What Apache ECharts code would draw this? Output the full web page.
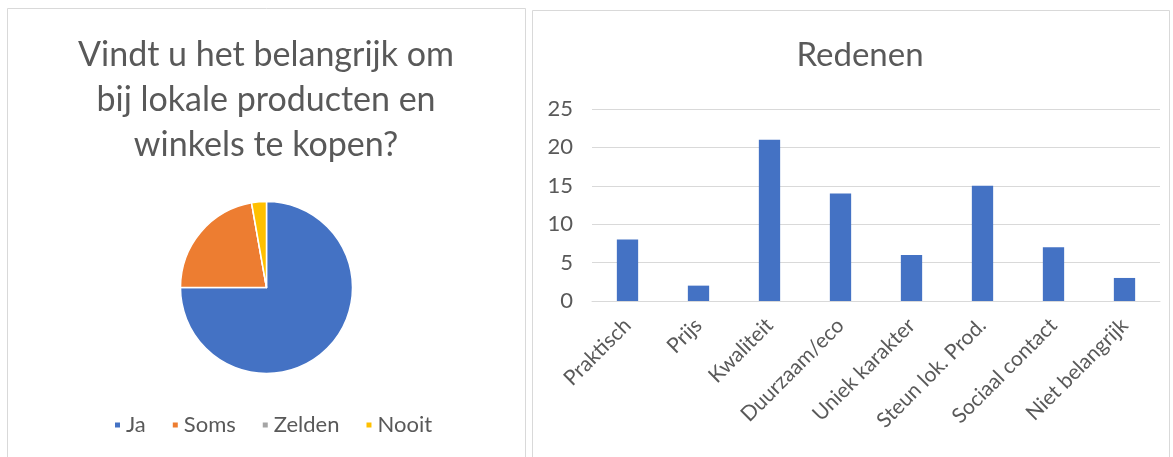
<!DOCTYPE html>
<html>
<head>
<meta charset="utf-8">
<script src="https://cdn.jsdelivr.net/npm/echarts@6/dist/echarts.min.js"></script>
<style>
  html, body { margin: 0; padding: 0; background: #ffffff; }
  #chart { width: 1173px; height: 457px; }
</style>
</head>
<body>
<div id="chart"></div>
<script>
// ---- data ----
const pieTitle = 'Vindt u het belangrijk om\nbij lokale producten en\nwinkels te kopen?';
const pieCategories = ['Ja', 'Soms', 'Zelden', 'Nooit'];
const pieValues = [27, 8, 0, 1];

const barTitle = 'Redenen';
const barCategories = ['Praktisch', 'Prijs', 'Kwaliteit', 'Duurzaam/eco', 'Uniek karakter', 'Steun lok. Prod.', 'Sociaal contact', 'Niet belangrijk'];
const barValues = [8, 2, 21, 14, 6, 15, 7, 3];

// ---- styles ----
const pieColors = ['#4472C4', '#ED7D31', '#A5A5A5', '#FFC000'];
const textColor = '#595959';
const fontFamily = 'Lato, "Open Sans", sans-serif';

const chart = echarts.init(document.getElementById('chart'), null, { renderer: 'canvas' });

chart.setOption({
  animation: false,
  backgroundColor: '#ffffff',
  textStyle: { fontFamily: fontFamily },
  graphic: [
    { type: 'rect', z: -10, shape: { x: 7.5, y: 8.5, width: 518, height: 470 },
      style: { fill: 'transparent', stroke: '#d9d9d9', lineWidth: 1 } },
    { type: 'rect', z: -10, shape: { x: 532.5, y: 10.5, width: 637, height: 470 },
      style: { fill: 'transparent', stroke: '#d9d9d9', lineWidth: 1 } }
  ],
  title: [
    {
      text: pieTitle, left: 266, top: 33, textAlign: 'center', padding: 0,
      textStyle: { fontFamily: fontFamily, fontSize: 34, fontWeight: 'normal', color: textColor, lineHeight: 45 }
    },
    {
      text: barTitle, left: 860, top: 33, textAlign: 'center', padding: 0,
      textStyle: { fontFamily: fontFamily, fontSize: 33, fontWeight: 'normal', color: textColor, lineHeight: 45 }
    }
  ],
  legend: {
    data: pieCategories,
    left: 113, top: 414,
    icon: 'rect', itemWidth: 7, itemHeight: 7, itemGap: 25,
    padding: 0,
    textStyle: { fontFamily: fontFamily, fontSize: 22, color: textColor }
  },
  grid: { left: 592, right: 13, top: 109, bottom: 156, containLabel: false },
  xAxis: {
    type: 'category', data: barCategories,
    axisLine: { lineStyle: { color: '#d9d9d9', width: 1 } },
    axisTick: { show: false },
    axisLabel: { rotate: 45, margin: 21, interval: 0, fontFamily: fontFamily, fontSize: 21, color: textColor }
  },
  yAxis: {
    type: 'value', min: 0, max: 25, interval: 5,
    axisLine: { show: false }, axisTick: { show: false },
    axisLabel: { margin: 19, fontFamily: fontFamily, fontSize: 22, color: textColor },
    splitLine: { lineStyle: { color: '#d9d9d9', width: 1 } }
  },
  series: [
    {
      type: 'pie', name: 'pie',
      center: [266.5, 287.5], radius: 86,
      startAngle: 90, clockwise: true,
      label: { show: false }, labelLine: { show: false },
      itemStyle: { borderColor: '#ffffff', borderWidth: 1.5 },
      data: pieCategories.map((c, i) => ({ name: c, value: pieValues[i], itemStyle: { color: pieColors[i] } }))
    },
    {
      type: 'bar', name: 'Redenen',
      data: barValues, barWidth: '30%',
      itemStyle: { color: '#4472C4' }
    }
  ]
});
</script>
</body>
</html>
